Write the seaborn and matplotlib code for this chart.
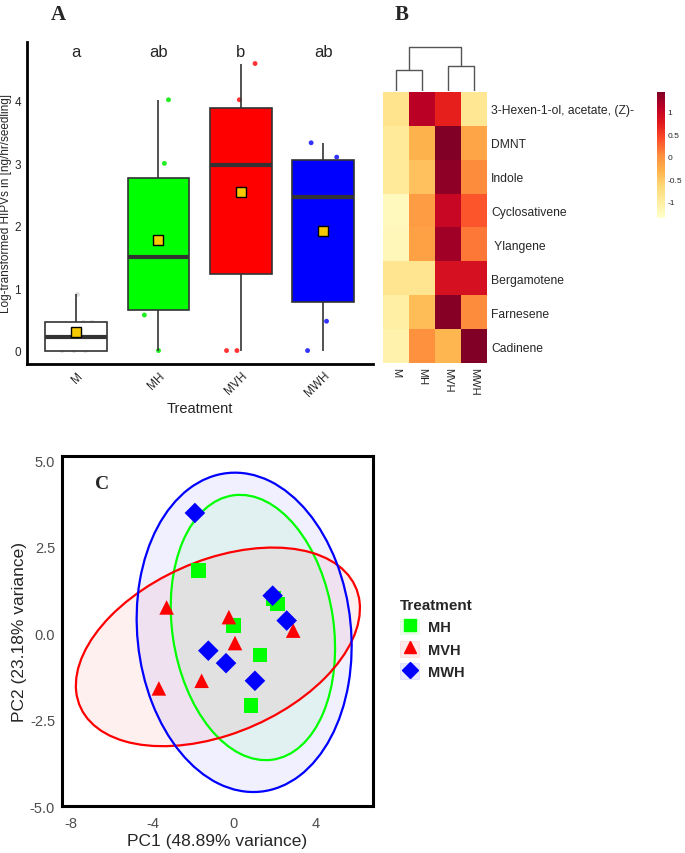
import numpy as np
import pandas as pd
import matplotlib
matplotlib.use("Agg")
import matplotlib.pyplot as plt
import seaborn as sns
from matplotlib.patches import Ellipse, Patch
from matplotlib.lines import Line2D

sns.set_style("white")
plt.rcParams["font.family"] = ["Liberation Sans", "DejaVu Sans"]
plt.rcParams["axes.unicode_minus"] = False

# ---- panel A: HIPV amounts per treatment ----
groups = ["M", "MH", "MVH", "MWH"]
vals_M = [0, 0, 0, 0.45, 0.45, 0.9]
vals_MH = [0, 0.57, 0.92, 2.08, 3.0, 4.02]
vals_MVH = [0, 0, 2.44, 2.97, 3.74, 4.02, 4.6]
vals_MWH = [0, 0.47, 1.09, 2.46, 3.0, 3.1, 3.33]
sig_letters = ["a", "ab", "b", "ab"]
box_colors = ["white", "#00FF00", "#FF0000", "#0000FF"]
dot_colors = ["#DDDDDD", "#22EE22", "#FF3333", "#3333FF"]

# ---- panel B: z-scored heatmap ----
compounds = ["3-Hexen-1-ol, acetate, (Z)-", "DMNT", "Indole", "Cyclosativene",
             " Ylangene", "Bergamotene", "Farnesene", "Cadinene"]
z_M = [-0.85, -0.95, -0.95, -1.25, -1.2, -0.87, -1.05, -1.1]
z_MH = [1.1, -0.3, -0.45, -0.1, -0.15, -0.87, -0.4, 0.0]
z_MVH = [0.7, 1.45, 1.35, 1.0, 1.25, 0.87, 1.4, -0.35]
z_MWH = [-0.9, -0.2, 0.05, 0.35, 0.15, 0.87, 0.05, 1.45]
# dendrogram merge heights: (M,MH), (MVH,MWH), top
merge_heights = [2.1, 2.5, 4.4]

# ---- panel C: PCA scores ----
pc_group = ["MH"] * 6 + ["MVH"] * 6 + ["MWH"] * 6
pc1 = [-1.75, 2.15, -0.03, 1.28, 0.84, 1.95,
       -3.31, -0.25, 2.91, 0.05, -1.59, -3.69,
       -1.92, 1.9, 2.59, -1.26, -0.39, 1.03]
pc2 = [1.8, 0.84, 0.21, -0.63, -2.1, 1.0,
       0.74, 0.46, 0.07, -0.29, -1.38, -1.6,
       3.47, 1.08, 0.36, -0.51, -0.87, -1.38]
pca_groups = ["MH", "MVH", "MWH"]
pca_colors = ["#00FF00", "#FF0000", "#0000FF"]
ell_center = [(0.93, 0.16), (-0.79, -0.40), (0.5, 0.02)]
ell_shape = [[[16.3, -2.41], [-2.41, 14.7]],
             [[48.7, 7.78], [7.78, 8.24]],
             [[27.9, -2.08], [-2.08, 21.3]]]

fig = plt.figure(figsize=(6.85, 8.54), dpi=100)

# ================= A =================
axA = fig.add_axes([0.039, 0.573, 0.505, 0.377])
dfA = pd.DataFrame({
    "Treatment": ["M"] * len(vals_M) + ["MH"] * len(vals_MH) + ["MVH"] * len(vals_MVH) + ["MWH"] * len(vals_MWH),
    "value": vals_M + vals_MH + vals_MVH + vals_MWH,
})
np.random.seed(7)
sns.stripplot(data=dfA, x="Treatment", y="value", hue="Treatment", order=groups,
              palette=dict(zip(groups, dot_colors)), jitter=0.2, size=3.5,
              legend=False, ax=axA, zorder=1)
sns.boxplot(data=dfA, x="Treatment", y="value", hue="Treatment", order=groups,
            palette=dict(zip(groups, box_colors)), width=0.75, linecolor="#333333",
            linewidth=1.2, showfliers=False, showcaps=False, saturation=1,
            medianprops=dict(linewidth=3, color="#333333"),
            showmeans=True,
            meanprops=dict(marker="s", markerfacecolor="#F5C800", markeredgecolor="black",
                           markersize=7.5, markeredgewidth=1),
            legend=False, ax=axA)
for i, let in enumerate(sig_letters):
    axA.text(i, 4.79, let, ha="center", va="center", fontsize=12)
axA.set_xlim(-0.6, 3.6)
axA.set_ylim(-0.21, 4.95)
axA.set_yticks([0, 1, 2, 3, 4])
axA.set_ylabel("Log-transformed HIPVs in [ng/hr/seedling]", fontsize=8.5, labelpad=2)
axA.set_xlabel("Treatment", fontsize=10.5, labelpad=2)
for s in ["top", "right"]:
    axA.spines[s].set_visible(False)
for s in ["left", "bottom"]:
    axA.spines[s].set_linewidth(2)
    axA.spines[s].set_color("black")
axA.tick_params(axis="both", length=2, width=0.8, color="#333333", labelsize=8.5, pad=2)
plt.setp(axA.get_xticklabels(), rotation=45, ha="right", rotation_mode="anchor")

# ================= B =================
axH = fig.add_axes([0.559, 0.5738, 0.152, 0.3173])
axD = fig.add_axes([0.559, 0.8923, 0.152, 0.0527])
axC = fig.add_axes([0.959, 0.7436, 0.0117, 0.1475])
heat = pd.DataFrame({"M": z_M, "MH": z_MH, "MVH": z_MVH, "MWH": z_MWH}, index=compounds)
sns.heatmap(heat, cmap="YlOrRd", vmin=-1.36, vmax=1.44, ax=axH, cbar_ax=axC,
            cbar_kws=dict(ticks=[-1, -0.5, 0, 0.5, 1]))
axH.yaxis.tick_right()
axH.set_yticklabels(compounds, rotation=0, fontsize=8.7)
axH.set_xticklabels(groups, rotation=270, fontsize=8)
axH.tick_params(length=0, pad=3)
axH.set_xlabel("")
axH.set_ylabel("")
axC.tick_params(length=0, labelsize=6, pad=2)
axC.set_yticklabels(["-1", "-0.5", "0", "0.5", "1"])
axH.collections[0].colorbar.outline.set_visible(False)

# dendrogram
h1, h2, h3 = merge_heights
lc = "#555555"
axD.plot([0.5, 0.5, 1.5, 1.5], [0, h1, h1, 0], color=lc, lw=1)
axD.plot([2.5, 2.5, 3.5, 3.5], [0, h2, h2, 0], color=lc, lw=1)
axD.plot([1.0, 1.0, 3.0, 3.0], [h1, h3, h3, h2], color=lc, lw=1)
axD.set_xlim(0, 4)
axD.set_ylim(0, h3 * 1.02)
axD.axis("off")

# ================= C =================
axP = fig.add_axes([0.0905, 0.055, 0.454, 0.41])
for ctr, shp, col in zip(ell_center, ell_shape, pca_colors):
    w, v = np.linalg.eigh(np.array(shp))
    ang = np.degrees(np.arctan2(v[1, 1], v[0, 1]))
    axP.add_patch(Ellipse(ctr, 2 * np.sqrt(w[1]), 2 * np.sqrt(w[0]), angle=ang,
                          facecolor=col, alpha=0.06, edgecolor="none", zorder=1))
    axP.add_patch(Ellipse(ctr, 2 * np.sqrt(w[1]), 2 * np.sqrt(w[0]), angle=ang,
                          facecolor="none", edgecolor=col, lw=1.6, zorder=2))
dfP = pd.DataFrame({"PC1": pc1, "PC2": pc2, "Treatment": pc_group})
sns.scatterplot(data=dfP, x="PC1", y="PC2", hue="Treatment", style="Treatment",
                hue_order=pca_groups, style_order=pca_groups,
                palette=dict(zip(pca_groups, pca_colors)),
                markers={"MH": "s", "MVH": "^", "MWH": "D"},
                s=110, linewidth=0, legend=False, ax=axP, zorder=3)
axP.set_xlim(-8.45, 6.83)
axP.set_ylim(-5.0, 5.12)
axP.set_xticks([-8, -4, 0, 4])
axP.set_yticks([-5.0, -2.5, 0.0, 2.5, 5.0])
axP.set_yticklabels(["-5.0", "-2.5", "0.0", "2.5", "5.0"])
axP.set_xlabel("PC1 (48.89% variance)", fontsize=12.5, labelpad=2)
axP.set_ylabel("PC2 (23.18% variance)", fontsize=12.5, labelpad=2)
axP.tick_params(axis="x", length=0, labelsize=10.5, labelcolor="#4D4D4D", pad=7)
axP.tick_params(axis="y", length=0, labelsize=10.5, labelcolor="#4D4D4D", pad=5)
for s in axP.spines.values():
    s.set_linewidth(2.2)
    s.set_color("black")
axP.text(0.13, 0.92, "C", transform=axP.transAxes, ha="center", va="center",
         fontsize=14, fontweight="bold", family="Liberation Serif")

handles = []
mk = {"MH": "s", "MVH": "^", "MWH": "D"}
for g, col in zip(pca_groups, pca_colors):
    handles.append((Patch(facecolor=col, alpha=0.08, edgecolor=col, lw=0.8),
                    Line2D([], [], marker=mk[g], color=col, linestyle="none", markersize=8)))
leg = fig.legend(handles, pca_groups, title="Treatment", loc="upper left",
                 bbox_to_anchor=(0.565, 0.314), frameon=False,
                 prop=dict(weight="bold", size=10.5), handlelength=1.3, handleheight=1.3,
                 handletextpad=0.6, labelspacing=0.45)
leg.get_title().set_fontweight("bold")
leg.get_title().set_fontsize(11)
leg._legend_box.align = "left"

# panel letters
fig.text(0.085, 0.983, "A", ha="center", va="center", fontsize=15, fontweight="bold",
         family="Liberation Serif")
fig.text(0.586, 0.983, "B", ha="center", va="center", fontsize=15, fontweight="bold",
         family="Liberation Serif")

fig.savefig("out.png", dpi=100)
